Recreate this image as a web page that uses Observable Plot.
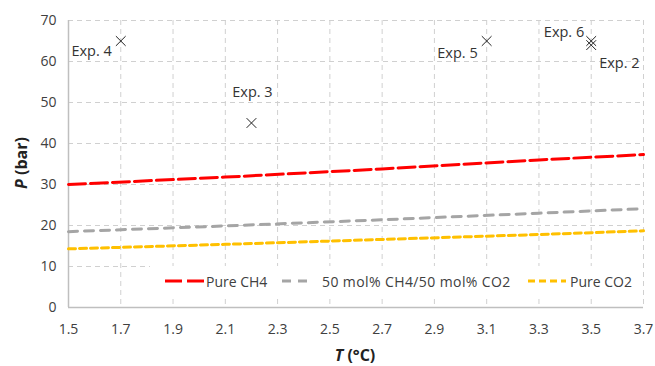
<!DOCTYPE html>
<html><head><meta charset="utf-8">
<script src="https://cdn.jsdelivr.net/npm/d3@7"></script>
<script src="https://cdn.jsdelivr.net/npm/@observablehq/plot@0.6"></script>
<style>
body{margin:0;background:#fff;font-family:"Open Sans",sans-serif;}
#wrap{position:relative;width:655px;height:366px;}
#legend{position:absolute;left:150px;top:266px;width:492px;height:32px;background:#fff;font-size:14px;color:#404040;white-space:nowrap;}
#legend .sw{position:absolute;top:12px;}
#legend .tx{position:absolute;top:6px;line-height:20px;}
</style></head>
<body><div id="wrap"><div id="chart"></div><div id="legend"></div></div>
<script>
const T = [1.5, 2.1, 2.7, 3.3, 3.7];
const pureCH4 = [30.0, 31.8, 33.8, 36.0, 37.3];
const mix5050 = [18.5, 19.9, 21.4, 23.0, 24.1];
const pureCO2 = [14.3, 15.4, 16.6, 17.8, 18.7];
const seriesNames = ["Pure CH4", "50 mol% CH4/50 mol% CO2", "Pure CO2"];
const expLabels = ["Exp. 4", "Exp. 3", "Exp. 5", "Exp. 6", "Exp. 2"];
const expT = [1.7, 2.2, 3.1, 3.5, 3.5];
const expP = [65, 45, 65, 65, 64];
const xTicks = [1.5,1.7,1.9,2.1,2.3,2.5,2.7,2.9,3.1,3.3,3.5,3.7];
const yTicks = [0,10,20,30,40,50,60,70];

const styles = [
  {color:"#ff0000", dash:"17,5"},
  {color:"#a5a5a5", dash:"9,7"},
  {color:"#ffc000", dash:"7,4"}
];
const seriesVals = [pureCH4, mix5050, pureCO2];
const lines = seriesVals.map((vals,i)=>T.map((t,j)=>({T:t,P:vals[j],s:seriesNames[i]})));
const exps = expLabels.map((l,i)=>({label:l,T:expT[i],P:expP[i]}));
const anchors = {"Exp. 4":{dx:-9,dy:10,ta:"end"},"Exp. 3":{dx:1,dy:-31,ta:"middle"},"Exp. 5":{dx:-9,dy:12,ta:"end"},"Exp. 6":{dx:-7,dy:-9,ta:"end"},"Exp. 2":{dx:8,dy:18,ta:"start"}};

const marks = [
  Plot.gridX(xTicks,{stroke:"#d0d0d0",strokeOpacity:1,strokeDasharray:"5,4"}),
  Plot.gridY(yTicks,{stroke:"#d0d0d0",strokeOpacity:1,strokeDasharray:"5,4"}),
  Plot.ruleY([0],{stroke:"#bfbfbf",strokeWidth:1.5}),
  Plot.ruleX([1.5],{stroke:"#bfbfbf",strokeWidth:1.5}),
  ...lines.map((d,i)=>Plot.line(d,{x:"T",y:"P",stroke:styles[i].color,strokeWidth:3,strokeDasharray:styles[i].dash})),
  Plot.dot(exps,{x:"T",y:"P",symbol:"times",r:4.5,stroke:"#222",strokeWidth:1}),
  ...exps.map(e=>{const a=anchors[e.label];return Plot.text([e],{x:"T",y:"P",text:"label",dx:a.dx,dy:a.dy,textAnchor:a.ta,fontSize:14.5,fill:"#333"});}),
  Plot.axisX(xTicks,{tickSize:0,tickPadding:17,tickFormat:d3.format(".1f"),fontSize:14,color:"#404040",label:null}),
  Plot.axisY(yTicks,{tickSize:0,tickPadding:12,fontSize:14,color:"#404040",label:null})
];

const chart = Plot.plot({
  width:655, height:366,
  marginLeft:68, marginRight:12, marginTop:20, marginBottom:59,
  x:{domain:[1.5,3.7]},
  y:{domain:[0,70]},
  style:{fontFamily:"Open Sans, sans-serif",background:"#fff",overflow:"visible"},
  marks
});
document.getElementById("chart").appendChild(chart);

const svg = d3.select(chart);
const yt = svg.append("text").attr("transform","translate(27,163) rotate(-90)").attr("text-anchor","middle")
  .attr("font-size",16).attr("font-weight","bold").attr("fill","#222");
yt.append("tspan").attr("font-style","italic").text("P");
yt.append("tspan").text(" (bar)");
const xt = svg.append("text").attr("x",355).attr("y",361).attr("text-anchor","middle")
  .attr("font-size",16).attr("font-weight","bold").attr("fill","#222");
xt.append("tspan").attr("font-style","italic").text("T");
xt.append("tspan").text(" (°C)");

// legend (positions relative to legend box)
const legPos = [{sw:15,sx:40,tx:56},{sw:132,sx:30,tx:172},{sw:378,sx:38,tx:420}];
const leg = d3.select("#legend");
seriesNames.forEach((n,i)=>{
  const p = legPos[i];
  const s = leg.append("svg").attr("class","sw").style("left",p.sw+"px").attr("width",p.sx).attr("height",6);
  s.append("line").attr("x1",0).attr("x2",p.sx).attr("y1",3).attr("y2",3).attr("stroke",styles[i].color)
   .attr("stroke-width",3).attr("stroke-dasharray",styles[i].dash);
  leg.append("span").attr("class","tx").style("left",p.tx+"px").style("letter-spacing", i===1?"0.4px":"0").text(n);
});
</script></body></html>
